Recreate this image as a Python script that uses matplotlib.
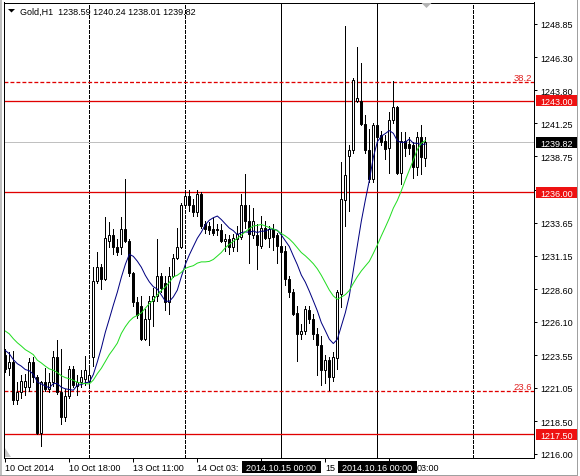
import matplotlib
matplotlib.use("Agg")
import matplotlib.pyplot as plt
import matplotlib.transforms as mtrans
from matplotlib.patches import Rectangle, Polygon
import numpy as np

# ---------------- data ----------------
symbol_title = "Gold,H1  1238.59 1240.24 1238.01 1239.82"

opens = [1223.6, 1222.6, 1223.0, 1220.1, 1220.7, 1221.1, 1221.1, 1223.0, 1221.9, 1217.6,
         1221.5, 1221.0, 1221.5, 1223.4, 1220.7, 1218.8, 1220.4, 1222.5, 1221.2, 1221.5,
         1221.7, 1221.6, 1223.4, 1229.2, 1230.3, 1229.4, 1232.3, 1232.7, 1231.8, 1231.8,
         1233.2, 1232.3, 1229.8, 1227.6, 1227.3, 1224.8, 1226.3, 1227.7, 1228.1, 1229.6,
         1229.1, 1227.6, 1229.6, 1231.0, 1231.8, 1235.0, 1235.7, 1235.0, 1234.5, 1235.9,
         1233.6, 1233.4, 1233.2, 1233.2, 1233.1, 1232.3, 1232.4, 1231.8, 1232.4, 1232.6,
         1235.0, 1233.8, 1232.7, 1232.7, 1231.9, 1233.3, 1232.5, 1233.2, 1232.7, 1231.9,
         1231.5, 1229.4, 1228.4, 1226.8, 1225.2, 1225.4, 1227.0, 1226.3, 1225.2, 1224.3,
         1222.4, 1223.2, 1221.9, 1223.3, 1228.2, 1235.4, 1238.8, 1239.2, 1243.0, 1243.0,
         1241.2, 1239.2, 1237.0, 1241.1, 1240.4, 1239.9, 1239.4, 1241.5, 1242.5, 1237.5,
         1239.9, 1239.7, 1239.6, 1237.9, 1240.2, 1238.59]
highs = [1224.0, 1223.8, 1223.9, 1221.5, 1222.0, 1222.1, 1223.3, 1223.4, 1222.0, 1221.6,
         1222.6, 1222.2, 1223.9, 1224.7, 1224.0, 1221.0, 1222.7, 1222.7, 1222.0, 1222.4,
         1223.5, 1222.5, 1230.3, 1231.4, 1230.5, 1234.1, 1233.7, 1233.2, 1232.4, 1234.1,
         1237.0, 1232.4, 1229.9, 1228.0, 1228.1, 1227.1, 1228.1, 1228.7, 1232.4, 1229.8,
         1229.6, 1230.3, 1231.3, 1233.3, 1235.2, 1236.2, 1236.2, 1235.5, 1236.2, 1236.0,
         1233.8, 1233.7, 1234.0, 1233.6, 1233.6, 1232.8, 1232.7, 1232.8, 1233.4, 1235.9,
         1237.4, 1235.0, 1234.8, 1233.6, 1234.2, 1233.8, 1233.4, 1233.6, 1232.9, 1232.2,
         1231.9, 1229.6, 1228.6, 1227.3, 1225.9, 1227.3, 1227.3, 1226.7, 1225.6, 1225.0,
         1223.6, 1223.4, 1223.8, 1228.5, 1238.3, 1248.7, 1239.6, 1244.7, 1247.1, 1245.9,
         1241.9, 1240.8, 1241.3, 1241.3, 1240.7, 1240.4, 1242.1, 1244.5, 1242.6, 1240.6,
         1240.6, 1240.2, 1239.8, 1240.6, 1241.1, 1240.24]
lows = [1222.3, 1222.0, 1219.8, 1219.8, 1220.3, 1220.5, 1220.8, 1221.5, 1217.5, 1216.6,
        1220.8, 1220.7, 1221.2, 1220.6, 1218.3, 1218.5, 1220.3, 1221.1, 1220.5, 1221.1,
        1221.3, 1221.3, 1222.7, 1229.1, 1228.6, 1229.3, 1231.8, 1231.3, 1231.2, 1231.3,
        1232.2, 1229.6, 1227.3, 1226.4, 1224.7, 1224.7, 1224.3, 1225.8, 1227.7, 1228.4,
        1227.0, 1226.7, 1229.5, 1230.9, 1231.7, 1234.8, 1234.6, 1234.2, 1234.2, 1233.3,
        1232.9, 1232.8, 1232.7, 1232.7, 1232.2, 1231.5, 1231.3, 1231.5, 1231.5, 1232.4,
        1233.3, 1230.6, 1232.5, 1230.1, 1231.7, 1232.4, 1231.8, 1231.6, 1230.6, 1231.2,
        1228.9, 1228.0, 1226.6, 1223.1, 1224.8, 1225.2, 1226.0, 1224.8, 1222.0, 1221.3,
        1221.4, 1220.9, 1221.6, 1222.5, 1227.2, 1233.4, 1234.6, 1239.0, 1242.9, 1241.1,
        1239.0, 1236.8, 1236.8, 1240.1, 1239.6, 1238.5, 1237.5, 1241.3, 1237.4, 1236.6,
        1238.8, 1238.9, 1237.1, 1237.3, 1237.4, 1238.01]
closes = [1222.5, 1223.0, 1220.1, 1220.7, 1221.6, 1221.6, 1223.0, 1221.9, 1217.6, 1221.5,
          1221.0, 1221.5, 1223.4, 1220.7, 1218.8, 1220.4, 1222.5, 1221.3, 1221.5, 1221.9,
          1222.4, 1222.0, 1229.2, 1230.3, 1229.4, 1232.5, 1232.7, 1231.8, 1231.4, 1233.2,
          1232.3, 1229.8, 1227.6, 1226.6, 1224.8, 1226.3, 1227.7, 1228.1, 1229.6, 1228.7,
          1227.6, 1229.6, 1231.0, 1231.8, 1235.0, 1235.7, 1235.0, 1234.5, 1235.9, 1233.4,
          1233.2, 1233.1, 1232.9, 1233.1, 1232.3, 1232.4, 1231.8, 1232.5, 1232.8, 1235.0,
          1233.8, 1232.8, 1233.8, 1232.0, 1233.3, 1232.5, 1233.2, 1232.6, 1231.9, 1231.4,
          1229.4, 1228.4, 1226.7, 1225.2, 1225.4, 1227.1, 1226.3, 1225.2, 1224.3, 1222.4,
          1223.2, 1221.9, 1223.4, 1228.4, 1235.5, 1237.3, 1239.2, 1244.6, 1243.2, 1241.2,
          1239.2, 1237.0, 1241.1, 1240.2, 1239.8, 1239.3, 1241.5, 1242.5, 1237.5, 1239.9,
          1239.4, 1239.4, 1237.9, 1240.2, 1238.7, 1239.82]
# closes of the hours before the first visible bar (needed to start the moving averages)
prior_closes = [1227.5, 1227.8, 1227.2, 1226.9, 1227.4, 1226.8, 1226.1, 1226.5, 1225.9, 1226.2,
                1225.9, 1225.4, 1224.6, 1223.8, 1223.5, 1224.2, 1223.9, 1224.5, 1223.6, 1223.0]
fast_period = 10
slow_period = 21

# time-axis labels as far as they are visible (the rest is covered by the line labels)
time_label_bars = [0, 16, 32, 48, 64, 80, 96]
time_labels = ["10 Oct 2014", "10 Oct 18:00", "13 Oct 11:00", "14 Oct 03:",
               "", "15", "03:00"]
time_label_shift_px = [0, 0, 0, 0, 0, 0, 27.5]
grid_bars = [21, 45, 69, 93, 117]
vline_bars = [69, 93]
vline_labels = ["2014.10.15 00:00", "2014.10.16 00:00"]

price_ticks = [1216.00, 1218.50, 1221.05, 1223.55, 1226.10, 1228.60, 1231.15,
               1233.65, 1236.20, 1238.75, 1241.25, 1243.80, 1246.30, 1248.85]
hidden_tick = 1236.20  # covered by the 1236.00 label box
hlines = [1243.00, 1236.00, 1217.50]
fibo_levels = [1244.44, 1220.79]
fibo_labels = ["38.2", "23.6"]
last_price = 1239.82

# ---------------- figure ----------------
W, H = 580, 477
DPI = 100
plt.rcParams["font.family"] = ["Liberation Sans", "DejaVu Sans"]
FS = 6.5
LW = 72.0 / DPI  # one pixel
RED = "#e00000"

fig = plt.figure(figsize=(W / DPI, H / DPI), dpi=DPI, facecolor="white")

ax_left, ax_right, ax_top, ax_bottom = 4, 534, 3.5, 458.5
ax = fig.add_axes([ax_left / W, 1 - ax_bottom / H, (ax_right - ax_left) / W, (ax_bottom - ax_top) / H])
ax.set_facecolor("white")

n = len(closes)
x = np.arange(n)
o = np.array(opens); h = np.array(highs); l = np.array(lows); c = np.array(closes)

px_per_bar = 4.0
x0 = -(5.32 - ax_left) / px_per_bar
ax.set_xlim(x0, x0 + (ax_right - ax_left) / px_per_bar)
px_per_unit = 13.09
ax.set_ylim(1216.0 - (ax_bottom - 455.0) / px_per_unit, 1216.0 + (455.0 - ax_top) / px_per_unit)

# grid (vertical dashed)
for b in grid_bars:
    ax.axvline(b, color="black", lw=LW, ls=(0, (3, 2)), zorder=1, antialiased=False)

# vertical line objects
for b in vline_bars:
    ax.axvline(b, color="black", lw=LW, zorder=1.5, antialiased=False)

# horizontal line objects (slightly wider so they keep their red colour)
for p in hlines:
    ax.axhline(p, color=RED, lw=1.3 * LW, zorder=1.6)
ax.axhline(last_price, color="#c0c0c0", lw=LW, zorder=1.2, antialiased=False)
for p, lab in zip(fibo_levels, fibo_labels):
    ax.axhline(p, color=RED, lw=1.3 * LW, ls=(0, (3, 1.6)), zorder=1.6)
    ax.text(0.996, p, lab, transform=mtrans.blended_transform_factory(ax.transAxes, ax.transData),
            ha="right", va="bottom", color="#e02020", fontsize=FS + 0.3, zorder=2)

# candles
ax.vlines(x, l, h, color="black", lw=LW, zorder=3, antialiased=False)
up = c >= o
body_bottom = np.minimum(o, c)
body_h = np.maximum(np.abs(c - o), 1e-4)
ax.bar(x, body_h, bottom=body_bottom, width=0.5,
       color=np.where(up, "white", "black"), edgecolor="black", linewidth=LW, zorder=4)

# moving averages
full = np.concatenate([prior_closes, closes])
def sma(vals, p):
    return np.convolve(vals, np.ones(p) / p, mode="valid")[-n:]
ax.plot(x, sma(full, fast_period), color="#000080", lw=LW, zorder=5)
ax.plot(x, sma(full, slow_period), color="#22dd22", lw=LW, zorder=5)

# spines / ticks
for s in ax.spines.values():
    s.set_color("black"); s.set_linewidth(LW)
ax.yaxis.tick_right()
ax.set_yticks(price_ticks)
ax.set_yticklabels(["" if abs(v - hidden_tick) < 1e-6 else f"{v:.2f}" for v in price_ticks], fontsize=FS)
ax.tick_params(axis="y", direction="out", length=3 * 0.72, width=LW, pad=3 * 0.72, colors="black")
ax.set_xticks(time_label_bars)
ax.set_xticklabels([])
ax.tick_params(axis="x", direction="out", length=4 * 0.72, width=LW)

def fy_px(py):
    return 1 - py / H

bt = mtrans.blended_transform_factory(ax.transData, fig.transFigure)
for b, lab, sh in zip(time_label_bars, time_labels, time_label_shift_px):
    if lab:
        ax.text(b - 0.08 + sh / px_per_bar, fy_px(471), lab, transform=bt, ha="left", va="baseline",
                fontsize=FS, color="black", clip_on=False, zorder=6)

# vertical line labels on time axis
for b, lab in zip(vline_bars, vline_labels):
    half = 39.5 / px_per_bar
    r = Rectangle((b - half, fy_px(473.5)), 2 * half, 12 / H, transform=bt,
                  facecolor="black", edgecolor="none", clip_on=False, zorder=10)
    ax.add_patch(r)
    ax.text(b, fy_px(471), lab, transform=bt, ha="center", va="baseline",
            fontsize=FS, color="white", clip_on=False, zorder=11)

# price labels on price axis
rt = mtrans.blended_transform_factory(fig.transFigure, ax.transData)
box_h = 11.0 / px_per_unit
for p, col in [(hlines[0], "#ee1111"), (hlines[1], "#ee1111"), (hlines[2], "#ee1111"),
               (last_price, "black")]:
    r = Rectangle((536 / W, p - box_h / 2), 41 / W, box_h, transform=rt,
                  facecolor=col, edgecolor="none", clip_on=False, zorder=10)
    ax.add_patch(r)
    ax.text(540 / W, p, f"{p:.2f}", transform=rt, ha="left", va="center_baseline",
            fontsize=FS, color="white", clip_on=False, zorder=11)

# title and small markers
fig.text(20 / W, fy_px(15), symbol_title, ha="left", va="baseline", fontsize=FS, color="black")
fig.add_artist(Polygon([(8 / W, fy_px(10)), (15 / W, fy_px(10)), (11.5 / W, fy_px(13.5))],
                       closed=True, transform=fig.transFigure, facecolor="black", edgecolor="none"))
fig.add_artist(Polygon([(421.5 / W, fy_px(4)), (431.5 / W, fy_px(4)), (426.5 / W, fy_px(9))],
                       closed=True, transform=fig.transFigure, facecolor="#b4b4b4", edgecolor="none"))
fig.add_artist(Polygon([(5 / W, fy_px(449)), (5 / W, fy_px(457.5)), (11 / W, fy_px(457.5))],
                       closed=True, transform=fig.transFigure, facecolor="#c8c8c8", edgecolor="none"))

# window borders
fig.add_artist(plt.Line2D([1 / W, 1 / W], [0, 1], transform=fig.transFigure, color="#c0c0c0", lw=2 * LW))
fig.add_artist(plt.Line2D([577 / W, 577 / W], [0, 1], transform=fig.transFigure, color="#a0a0a0", lw=LW))
fig.add_artist(plt.Line2D([0, 577 / W], [fy_px(475.5), fy_px(475.5)], transform=fig.transFigure,
                          color="#a0a0a0", lw=LW))

fig.savefig("out.png", dpi=DPI, facecolor="white")
